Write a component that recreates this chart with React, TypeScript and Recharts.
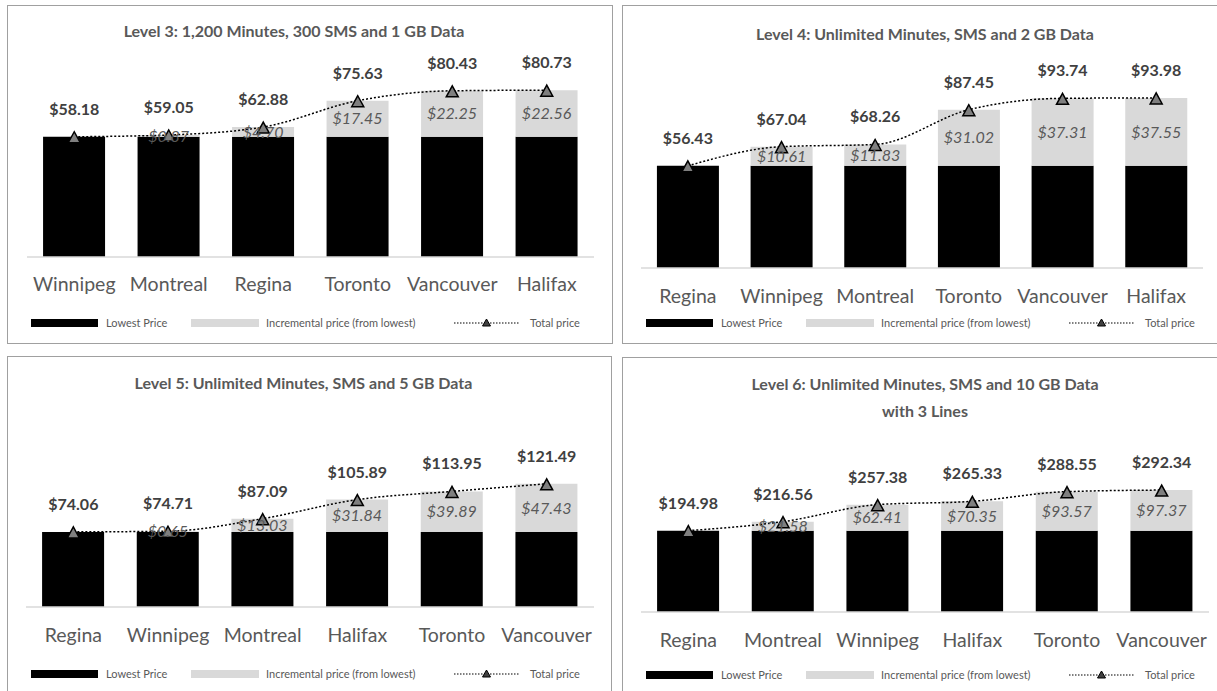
import React from 'react';
import { ComposedChart, Bar, Line, XAxis, YAxis, Legend, LabelList } from 'recharts';

const FONT = 'Lato, "Open Sans", sans-serif';

// Level 3: 1,200 Minutes, 300 SMS and 1 GB Data
const l3Cities = ['Winnipeg', 'Montreal', 'Regina', 'Toronto', 'Vancouver', 'Halifax'];
const l3Lowest = [58.18, 58.18, 58.18, 58.18, 58.18, 58.18];
const l3Incremental = [0, 0.87, 4.7, 17.45, 22.25, 22.56];
const l3Total = [58.18, 59.05, 62.88, 75.63, 80.43, 80.73];

// Level 4: Unlimited Minutes, SMS and 2 GB Data
const l4Cities = ['Regina', 'Winnipeg', 'Montreal', 'Toronto', 'Vancouver', 'Halifax'];
const l4Lowest = [56.43, 56.43, 56.43, 56.43, 56.43, 56.43];
const l4Incremental = [0, 10.61, 11.83, 31.02, 37.31, 37.55];
const l4Total = [56.43, 67.04, 68.26, 87.45, 93.74, 93.98];

// Level 5: Unlimited Minutes, SMS and 5 GB Data
const l5Cities = ['Regina', 'Winnipeg', 'Montreal', 'Halifax', 'Toronto', 'Vancouver'];
const l5Lowest = [74.06, 74.06, 74.06, 74.06, 74.06, 74.06];
const l5Incremental = [0, 0.65, 13.03, 31.84, 39.89, 47.43];
const l5Total = [74.06, 74.71, 87.09, 105.89, 113.95, 121.49];

// Level 6: Unlimited Minutes, SMS and 10 GB Data with 3 Lines
const l6Cities = ['Regina', 'Montreal', 'Winnipeg', 'Halifax', 'Toronto', 'Vancouver'];
const l6Lowest = [194.98, 194.98, 194.98, 194.98, 194.98, 194.98];
const l6Incremental = [0, 21.58, 62.41, 70.35, 93.57, 97.37];
const l6Total = [194.98, 216.56, 257.38, 265.33, 288.55, 292.34];

const buildRows = (cities: string[], lowest: number[], inc: number[], total: number[]) =>
  cities.map((name, i) => ({ name, lowest: lowest[i], inc: inc[i], total: total[i] }));

const money = (v: any) => (typeof v === 'number' && v > 0 ? `$${v.toFixed(2)}` : '');

const TriangleDot = (props: any) => {
  const { cx, cy } = props;
  if (cx == null || cy == null) return null;
  return (
    <polygon
      key={props.key}
      points={`${cx},${cy - 5} ${cx - 6},${cy + 6} ${cx + 6},${cy + 6}`}
      fill="#7f7f7f"
      stroke="#000"
      strokeWidth={1.5}
    />
  );
};

const LegendContent = () => (
  <svg width={606} height={16} style={{ display: 'block' }}>
    <rect x={24} y={4} width={67} height={8} fill="#000" />
    <text x={99} y={12} fontSize={11} fill="#595959" fontFamily={FONT}>
      Lowest Price
    </text>
    <rect x={184} y={4} width={68} height={8} fill="#d9d9d9" />
    <text x={259} y={12} fontSize={11} fill="#595959" fontFamily={FONT}>
      Incremental price (from lowest)
    </text>
    <line x1={447} x2={512} y1={8} y2={8} stroke="#000" strokeWidth={1.2} strokeDasharray="1.5 1.5" />
    <polygon points="479.5,4 475.5,11 483.5,11" fill="#404040" stroke="#000" strokeWidth={1} />
    <text x={523} y={12} fontSize={11} fill="#595959" fontFamily={FONT}>
      Total price
    </text>
  </svg>
);

interface PanelProps {
  left: number;
  top: number;
  width: number;
  height: number;
  title: string[];
  titleY: number;
  titleShift: number;
  rows: any[];
  yMax: number;
  plotTop: number;
  baseline: number;
  marginLeft: number;
  marginRight: number;
  tickGap: number;
}

function Panel(p: PanelProps) {
  const lineH = 27;
  return (
    <div style={{ position: 'absolute', left: p.left, top: p.top, width: p.width, height: p.height }}>
      <div
        style={{
          position: 'absolute',
          left: p.titleShift,
          top: p.titleY - lineH / 2,
          width: p.width,
          textAlign: 'center',
          fontFamily: FONT,
          fontWeight: 700,
          fontSize: 16,
          lineHeight: `${lineH}px`,
          color: '#595959',
        }}
      >
        {p.title.map((t) => (
          <div key={t}>{t}</div>
        ))}
      </div>
      <ComposedChart
        width={p.width}
        height={p.height}
        data={p.rows}
        barCategoryGap="17%"
        margin={{ top: p.plotTop, right: p.marginRight, left: p.marginLeft, bottom: p.height - p.baseline - 30 }}
      >
        <XAxis
          dataKey="name"
          height={30}
          tickLine={false}
          tickSize={0}
          tickMargin={p.tickGap}
          axisLine={{ stroke: '#d9d9d9', strokeWidth: 1.5 }}
          tick={{ fill: '#595959', fontSize: 19.5, fontFamily: FONT }}
          interval={0}
        />
        <YAxis hide domain={[0, p.yMax]} />
        <Legend
          verticalAlign="middle"
          content={<LegendContent />}
          wrapperStyle={{ top: 310, left: 0, width: p.width }}
        />
        <Bar dataKey="lowest" stackId="a" fill="#000" isAnimationActive={false} />
        <Bar dataKey="inc" stackId="a" fill="#d9d9d9" isAnimationActive={false}>
          <LabelList
            dataKey="inc"
            position="center"
            formatter={money}
            style={{ fill: '#595959', fontSize: 16, fontStyle: 'italic', fontFamily: FONT }}
          />
        </Bar>
        <Line
          dataKey="total"
          type="monotone"
          stroke="#000"
          strokeWidth={1.5}
          strokeDasharray="2 2"
          dot={<TriangleDot />}
          activeDot={false}
          isAnimationActive={false}
        >
          <LabelList
            dataKey="total"
            position="top"
            offset={22}
            formatter={money}
            style={{ fill: '#404040', fontSize: 16, fontWeight: 700, fontFamily: FONT }}
          />
        </Line>
      </ComposedChart>
      <div
        style={{
          position: 'absolute',
          left: 0,
          top: 0,
          width: p.width,
          height: p.height,
          boxSizing: 'border-box',
          border: '1.5px solid #a0a0a0',
          pointerEvents: 'none',
        }}
      />
    </div>
  );
}

export default function App() {
  return (
    <div
      style={{
        position: 'absolute',
        left: 0,
        top: 0,
        width: 1217,
        height: 691,
        overflow: 'hidden',
        background: '#fff',
      }}
    >
      <Panel
        left={7}
        top={5}
        width={606}
        height={339}
        title={['Level 3: 1,200 Minutes, 300 SMS and 1 GB Data']}
        titleY={25}
        titleShift={-16}
        rows={buildRows(l3Cities, l3Lowest, l3Incremental, l3Total)}
        yMax={90}
        plotTop={66}
        baseline={252}
        marginLeft={20}
        marginRight={19}
        tickGap={20}
      />
      <Panel
        left={622}
        top={5}
        width={606}
        height={339}
        title={['Level 4: Unlimited Minutes, SMS and 2 GB Data']}
        titleY={28}
        titleShift={0}
        rows={buildRows(l4Cities, l4Lowest, l4Incremental, l4Total)}
        yMax={100}
        plotTop={82}
        baseline={263}
        marginLeft={19}
        marginRight={25}
        tickGap={21}
      />
      <Panel
        left={7}
        top={356}
        width={605}
        height={345}
        title={['Level 5: Unlimited Minutes, SMS and 5 GB Data']}
        titleY={26}
        titleShift={-6}
        rows={buildRows(l5Cities, l5Lowest, l5Incremental, l5Total)}
        yMax={140}
        plotTop={109}
        baseline={251}
        marginLeft={19}
        marginRight={18}
        tickGap={21}
      />
      <Panel
        left={622}
        top={357}
        width={606}
        height={345}
        title={['Level 6: Unlimited Minutes, SMS and 10 GB Data', 'with 3 Lines']}
        titleY={26}
        titleShift={0}
        rows={buildRows(l6Cities, l6Lowest, l6Incremental, l6Total)}
        yMax={350}
        plotTop={109}
        baseline={255}
        marginLeft={19}
        marginRight={19}
        tickGap={21}
      />
    </div>
  );
}
